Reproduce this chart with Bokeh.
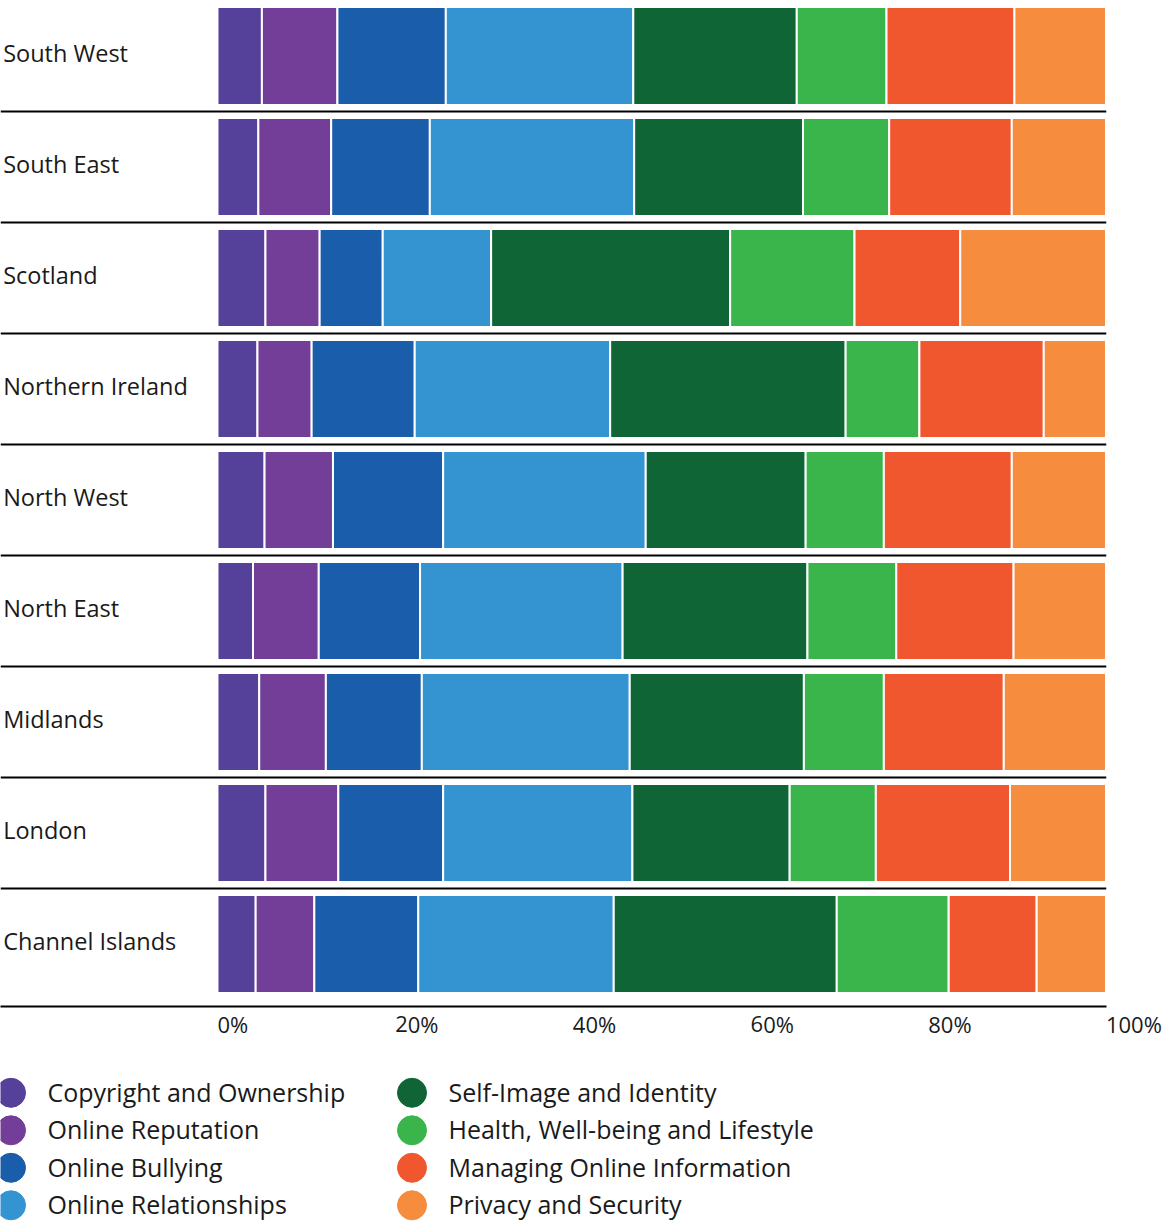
from bokeh.plotting import figure
from bokeh.models import Range1d, FixedTicker, PrintfTickFormatter, Span, ColumnDataSource
from bokeh.layouts import column
from bokeh.core.properties import value
from bokeh.embed import file_html
from bokeh.resources import INLINE

# Regions, top to bottom
regions = ["South West", "South East", "Scotland", "Northern Ireland", "North West",
           "North East", "Midlands", "London", "Channel Islands"]

# Topic shares per region (% of responses)
copyright_ownership = [5.0, 4.6, 5.4, 4.5, 5.3, 4.0, 4.7, 5.4, 4.3]
online_reputation = [8.5, 8.2, 6.1, 6.1, 7.7, 7.4, 7.5, 8.2, 6.6]
online_bullying = [12.2, 11.1, 7.1, 11.6, 12.4, 11.4, 10.8, 11.8, 11.7]
online_relationships = [21.1, 23.0, 12.2, 22.0, 22.8, 22.8, 23.4, 21.3, 22.0]
self_image_identity = [18.4, 19.0, 26.9, 26.5, 18.0, 20.8, 19.6, 17.7, 25.1]
health_wellbeing = [10.1, 9.7, 14.0, 8.3, 8.8, 10.0, 9.0, 9.7, 12.6]
managing_information = [14.4, 13.8, 11.9, 14.0, 14.4, 13.2, 13.5, 15.1, 9.9]
privacy_security = [10.3, 10.6, 16.4, 7.0, 10.6, 10.4, 11.5, 10.8, 7.8]

topics = ["Copyright and Ownership", "Online Reputation", "Online Bullying",
          "Online Relationships", "Self-Image and Identity",
          "Health, Well-being and Lifestyle", "Managing Online Information",
          "Privacy and Security"]
colors = ["#55409a", "#733e97", "#1a5daa", "#3494d2",
          "#0f6535", "#3ab54c", "#f1572f", "#f58c3e"]

x_ticks = [0, 20, 40, 60, 80, 100]

FONT = "Open Sans"
TEXT_COLOR = "#1a1a1a"

series = [copyright_ownership, online_reputation, online_bullying, online_relationships,
          self_image_identity, health_wellbeing, managing_information, privacy_security]

data = {"y": [i + 0.5 for i in range(len(regions))], "region": regions}
for name, vals in zip(topics, series):
    data[name] = vals
source = ColumnDataSource(data)

W, RIGHT_PAD = 1170, 64
FRAME_H, BOTTOM_PAD = 1006, 60
X_START = -24.42
p = figure(width=W, height=FRAME_H + BOTTOM_PAD, output_backend="svg", toolbar_location=None,
           x_range=Range1d(X_START, 100.06), y_range=Range1d(len(regions) + 0.063, 0),
           y_axis_location=None, min_border_left=0, min_border_right=RIGHT_PAD,
           min_border_top=0, min_border_bottom=BOTTOM_PAD)
p.outline_line_color = None
p.grid.visible = False
p.background_fill_color = "white"
p.border_fill_color = "white"

p.hbar_stack(topics, y="y", height=0.883, color=colors, source=source,
             line_color="white", line_width=2)

# Row labels at the left edge
p.text(x=X_START + 0.3, y="y", text="region", source=source,
       text_font=value(FONT), text_font_size="23.5px", text_color=TEXT_COLOR,
       text_baseline="middle", text_align="left", y_offset=-3)

# Black rules between rows
for i in range(1, len(regions)):
    p.add_layout(Span(location=i, dimension="width", line_color="black", line_width=2))

ax = p.xaxis[0]
ax.ticker = FixedTicker(ticks=x_ticks)
ax.formatter = PrintfTickFormatter(format="%d%%")
ax.axis_line_color = "black"
ax.axis_line_width = 2
ax.major_tick_line_color = None
ax.minor_tick_line_color = None
ax.major_label_text_font = FONT
ax.major_label_text_font_size = "22px"
ax.major_label_text_color = TEXT_COLOR
# a vanishing tilt makes the tick labels start at their tick
ax.major_label_orientation = -1e-4
ax.major_label_standoff = 11

# Legend panel: two columns of coloured dots with labels
LEG_H = 1221 - (FRAME_H + BOTTOM_PAD)
leg = figure(width=W, height=LEG_H, output_backend="svg", toolbar_location=None,
             x_range=Range1d(0, W - RIGHT_PAD), y_range=Range1d(LEG_H, 0),
             x_axis_location=None, y_axis_location=None,
             min_border=0, min_border_left=0, min_border_right=RIGHT_PAD,
             min_border_top=0, min_border_bottom=0)
leg.outline_line_color = None
leg.grid.visible = False

per_col = 4
col_dot_x = [10.5, 411.5]
text_dx = 36.5
row_y0, row_step = 26.3, 37.5
leg_src = ColumnDataSource({
    "x": [col_dot_x[i // per_col] for i in range(len(topics))],
    "tx": [col_dot_x[i // per_col] + text_dx for i in range(len(topics))],
    "y": [row_y0 + row_step * (i % per_col) for i in range(len(topics))],
    "label": topics,
    "color": colors,
})
leg.scatter(x="x", y="y", size=29, color="color", source=leg_src)
leg.text(x="tx", y="y", text="label", source=leg_src, text_font=value(FONT),
         text_font_size="25px", text_color=TEXT_COLOR, text_baseline="middle",
         text_align="left", y_offset=-1)

layout = column(p, leg, spacing=0)
open("out.html", "w").write(file_html(layout, INLINE))
